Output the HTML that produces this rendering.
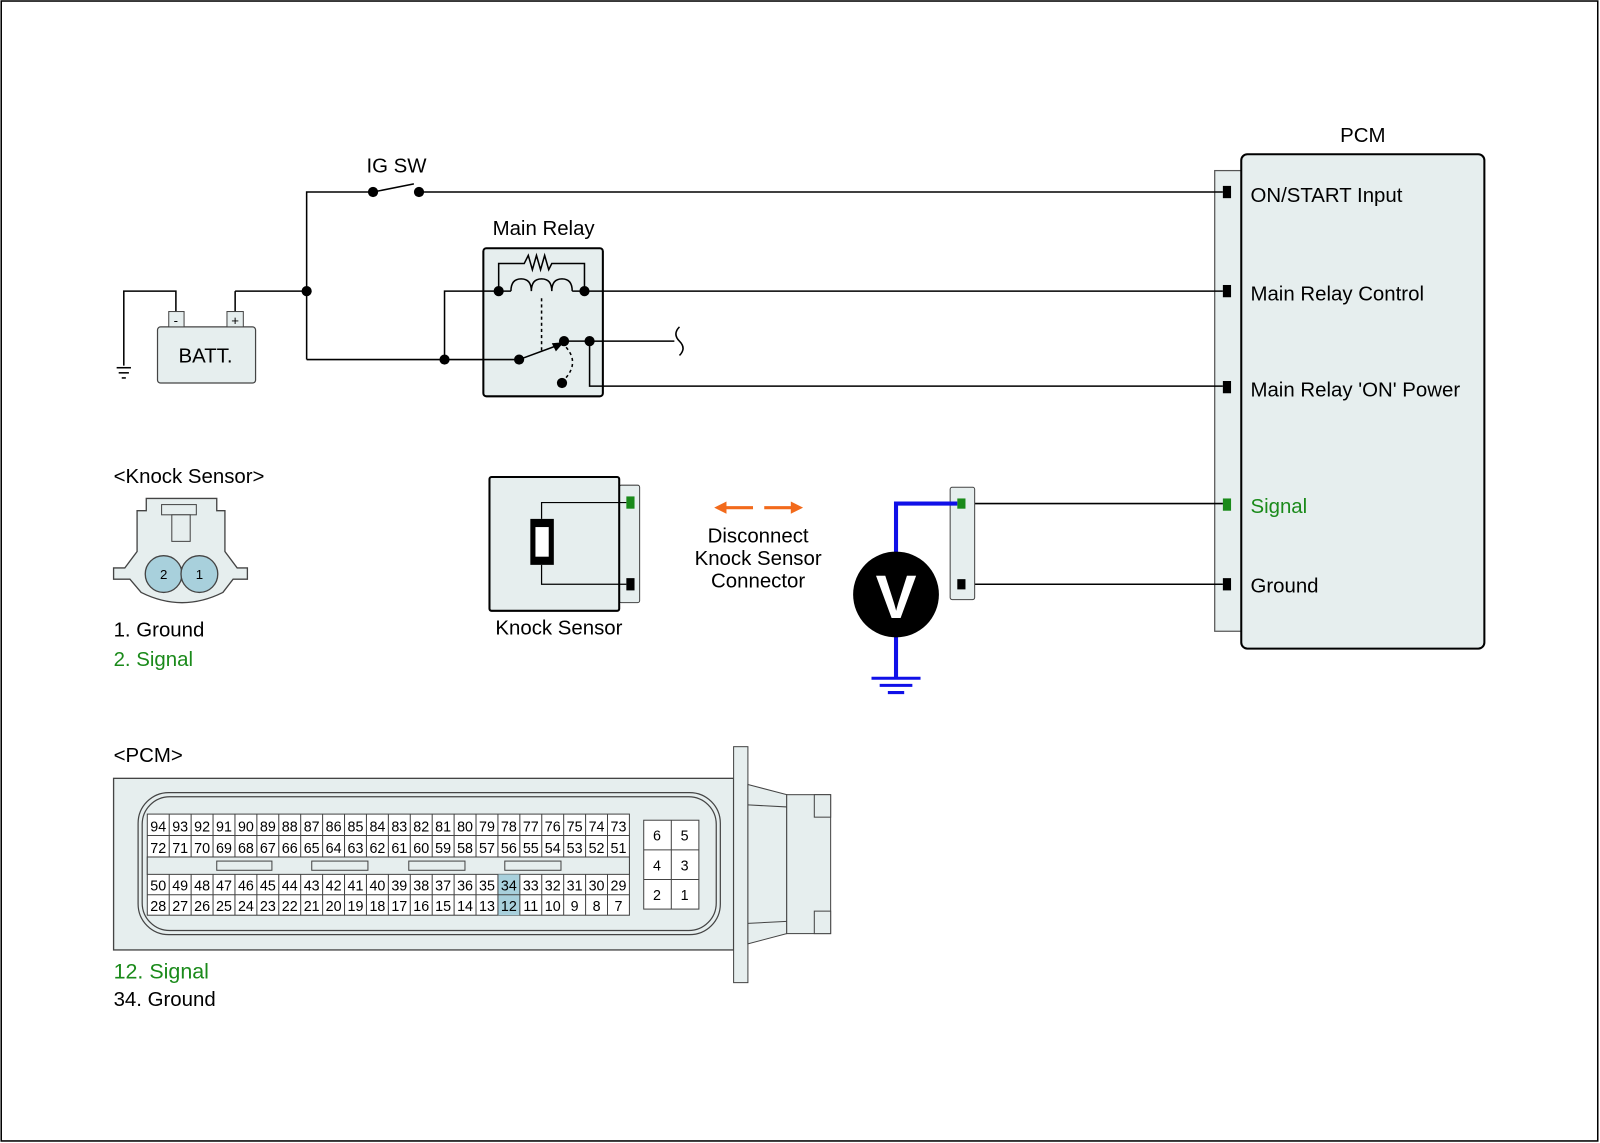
<!DOCTYPE html>
<html><head><style>html,body{margin:0;padding:0;background:#fff}svg{display:block}text{font-family:"Liberation Sans",Arial,sans-serif}</style></head>
<body>
<svg width="1600" height="1143" viewBox="0 0 1566 1119" xmlns="http://www.w3.org/2000/svg">
<rect x="1" y="1" width="1563" height="1116" fill="#fff" stroke="#000" stroke-width="1.5"/>
<g font-size="20" fill="#000">
<!-- PCM -->
<text x="1334" y="139" text-anchor="middle">PCM</text>
<rect x="1189" y="167" width="26" height="451" fill="#e6eeee" stroke="#555" stroke-width="1.2"/>
<rect x="1215" y="151" width="238" height="484" rx="6" fill="#e6eeee" stroke="#000" stroke-width="2"/>
<rect x="1197" y="182" width="8" height="12" fill="#000"/>
<rect x="1197" y="279" width="8" height="12" fill="#000"/>
<rect x="1197" y="373" width="8" height="12" fill="#000"/>
<rect x="1197" y="488" width="8" height="12" fill="#1a8a1a"/>
<rect x="1197" y="566" width="8" height="12" fill="#000"/>
<text x="1224" y="198">ON/START Input</text>
<text x="1224" y="294">Main Relay Control</text>
<text x="1224" y="388">Main Relay 'ON' Power</text>
<text x="1224" y="502" fill="#1a8a1a">Signal</text>
<text x="1224" y="580">Ground</text>

<g stroke="#000" stroke-width="1.5" fill="none">
<polyline points="300,352 300,188 365,188"/>
<line x1="365" y1="188" x2="405" y2="180"/>
<line x1="410" y1="188" x2="1197" y2="188"/>
<line x1="230" y1="285" x2="300" y2="285"/>
<polyline points="300,352 473,352"/>
<polyline points="435,352 435,285 473,285"/>
<line x1="590" y1="285" x2="1197" y2="285"/>
<polyline points="590,334 660,334"/>
<path d="M665,320 Q658,327 665,334 Q672,341 665,348"/>
<polyline points="590,378 1197,378"/>
<line x1="945" y1="493" x2="1197" y2="493"/>
<line x1="945" y1="572" x2="1197" y2="572"/>
<polyline points="230,305 230,285"/>
<polyline points="172,305 172,285 121,285 121,358"/>
<line x1="114" y1="360" x2="128" y2="360"/>
<line x1="116" y1="365" x2="126" y2="365"/>
<line x1="119" y1="370" x2="123" y2="370"/>
</g>
<circle cx="365" cy="188" r="5"/><circle cx="410" cy="188" r="5"/>
<circle cx="300" cy="285" r="5"/><circle cx="435" cy="352" r="5"/>
<text x="388" y="169" text-anchor="middle">IG SW</text>
<!-- battery -->
<rect x="154" y="320" width="96" height="55" rx="3" fill="#e6eeee" stroke="#444" stroke-width="1.2"/>
<rect x="165" y="305" width="15" height="15" fill="#e6eeee" stroke="#444"/>
<rect x="222" y="305" width="16" height="15" fill="#e6eeee" stroke="#444"/>
<text x="172" y="318" font-size="13" text-anchor="middle">-</text>
<text x="230" y="318" font-size="13" text-anchor="middle">+</text>
<text x="201" y="355" text-anchor="middle">BATT.</text>
<!-- relay -->
<text x="532" y="230" text-anchor="middle">Main Relay</text>
<rect x="473" y="243" width="117" height="145" rx="3" fill="#e6eeee" stroke="#000" stroke-width="2"/>
<g stroke="#000" stroke-width="1.5" fill="none">
<line x1="473" y1="285" x2="488" y2="285"/>
<line x1="473" y1="352" x2="508" y2="352"/>
<line x1="572" y1="285" x2="590" y2="285"/>
<line x1="577" y1="334" x2="590" y2="334"/>
<polyline points="577,334 577,378 590,378"/>
<polyline points="488,285 488,258 513,258 517,250 521,264 525,250 529,264 533,250 537,264 540,258 572,258 572,285"/>
<path d="M500,285 q0,-12 10,-12 q10,0 10,12 q0,-12 10,-12 q10,0 10,12 q0,-12 10,-12 q10,0 10,12 M488,285 H500 M560,285 H572"/>
<line x1="530" y1="292" x2="530" y2="346" stroke-dasharray="3,3"/>
<line x1="508" y1="352" x2="546" y2="338"/>
<line x1="552" y1="334" x2="577" y2="334"/>
<path d="M554,340 Q568,356 551,373" stroke-dasharray="3,3"/>
</g>
<polygon points="552,335 540,336 544,344" fill="#000"/>
<circle cx="488" cy="285" r="5"/><circle cx="572" cy="285" r="5"/>
<circle cx="508" cy="352" r="5"/><circle cx="552" cy="334" r="5"/>
<circle cx="577" cy="334" r="5"/><circle cx="550" cy="375" r="5"/>

<!-- knock sensor connector -->
<text x="111" y="473">&lt;Knock Sensor&gt;</text>
<path d="M143,488 H212 V500 H220 V540 L232,556 H242 V567 H228 L218,580 Q178,600 138,580 L127,567 H111 V556 H122 L134,540 V500 H143 Z" fill="#e6eeee" stroke="#444" stroke-width="1.3"/>
<rect x="158" y="494" width="34" height="10" fill="#e6eeee" stroke="#444"/>
<rect x="168" y="504" width="18" height="26" fill="#e6eeee" stroke="#444"/>
<circle cx="160" cy="562" r="18" fill="#a8d0dc" stroke="#444" stroke-width="1.3"/>
<circle cx="195" cy="562" r="18" fill="#a8d0dc" stroke="#444" stroke-width="1.3"/>
<text x="160" y="567" font-size="13" text-anchor="middle">2</text>
<text x="195" y="567" font-size="13" text-anchor="middle">1</text>
<text x="111" y="623">1. Ground</text>
<text x="111" y="652" fill="#1a8a1a">2. Signal</text>

<!-- knock sensor -->
<rect x="606" y="475" width="20" height="115" rx="2" fill="#e6eeee" stroke="#444"/>
<rect x="479" y="467" width="127" height="131" rx="2" fill="#e6eeee" stroke="#000" stroke-width="2"/>
<polyline points="613,492 530,492 530,508" stroke="#000" fill="none" stroke-width="1.2"/>
<polyline points="530,553 530,572 613,572" stroke="#000" fill="none" stroke-width="1.2"/>
<rect x="519" y="508" width="23" height="45" fill="#000"/>
<rect x="524" y="516" width="13" height="29" fill="#fff"/>
<rect x="613" y="486" width="8" height="12" fill="#1a8a1a"/>
<rect x="613" y="566" width="8" height="12" fill="#000"/>
<text x="547" y="621" text-anchor="middle">Knock Sensor</text>
<g stroke="#f26a1b" stroke-width="3"><line x1="708" y1="497" x2="737" y2="497"/><line x1="748" y1="497" x2="777" y2="497"/></g>
<polygon points="699,497 711,491 711,503" fill="#f26a1b"/>
<polygon points="786,497 774,491 774,503" fill="#f26a1b"/>
<text x="742" y="531" text-anchor="middle">Disconnect</text>
<text x="742" y="553" text-anchor="middle">Knock Sensor</text>
<text x="742" y="575" text-anchor="middle">Connector</text>

<!-- meter -->
<rect x="930" y="477" width="24" height="110" rx="2" fill="#e6eeee" stroke="#444"/>
<rect x="937" y="488" width="8" height="10" fill="#1a8a1a"/>
<rect x="937" y="567" width="8" height="10" fill="#000"/>
<g stroke="#1010e8" stroke-width="4" fill="none">
<polyline points="937,493 877,493 877,545"/>
<line x1="877" y1="620" x2="877" y2="664"/>
<line x1="853" y1="664" x2="901" y2="664" stroke-width="3"/>
<line x1="861" y1="671" x2="893" y2="671" stroke-width="3"/>
<line x1="869" y1="678" x2="885" y2="678" stroke-width="3"/>
</g>
<circle cx="877" cy="582" r="42" fill="#000"/>
<text x="877" y="605" text-anchor="middle" font-size="60" font-weight="bold" fill="#fff">V</text>

<!-- PCM connector -->
<text x="111" y="746">&lt;PCM&gt;</text>
<rect x="111" y="762" width="607" height="168" fill="#e6eeee" stroke="#444" stroke-width="1.3"/>
<rect x="135" y="776" width="570" height="139" rx="30" fill="none" stroke="#444" stroke-width="1.2"/>
<rect x="139" y="780" width="562" height="131" rx="27" fill="none" stroke="#444" stroke-width="1.2"/>
<rect x="718" y="731" width="14" height="231" fill="#e6eeee" stroke="#444"/>
<path d="M732,768 L770,778 V914 L732,924 Z" fill="#e6eeee" stroke="#444"/>
<rect x="770" y="778" width="43" height="136" fill="#e6eeee" stroke="#444"/>
<rect x="797" y="778" width="16" height="22" fill="#e6eeee" stroke="#444"/>
<rect x="797" y="892" width="16" height="22" fill="#e6eeee" stroke="#444"/>
<line x1="732" y1="788" x2="770" y2="790" stroke="#444"/>
<line x1="732" y1="904" x2="770" y2="902" stroke="#444"/>
<rect x="144" y="797" width="472" height="99" fill="#fff" stroke="#444"/>
<rect x="144" y="839" width="472" height="17" fill="#e6eeee" stroke="#444"/>
<rect x="487" y="856" width="21.5" height="40" fill="#a8d0dc"/>
<g fill="#e6eeee" stroke="#444"><rect x="212" y="843" width="54" height="9"/><rect x="305" y="843" width="55" height="9"/><rect x="400" y="843" width="55" height="9"/><rect x="494" y="843" width="55" height="9"/></g>
<g stroke="#444" stroke-width="1">
<line x1="144" y1="818" x2="616" y2="818"/><line x1="144" y1="876" x2="616" y2="876"/>
</g>
<g id="cols" stroke="#444" stroke-width="1"></g>
<g font-size="14" text-anchor="middle" id="nums"></g>
<rect x="630" y="803" width="54" height="87" fill="#fff" stroke="#444"/>
<g stroke="#444"><line x1="657" y1="803" x2="657" y2="890"/><line x1="630" y1="832" x2="684" y2="832"/><line x1="630" y1="861" x2="684" y2="861"/></g>
<g font-size="14" text-anchor="middle"><text x="643" y="823">6</text><text x="670" y="823">5</text><text x="643" y="852">4</text><text x="670" y="852">3</text><text x="643" y="881">2</text><text x="670" y="881">1</text></g>
<text x="111" y="958" fill="#1a8a1a" font-size="21">12. Signal</text>
<text x="111" y="985">34. Ground</text>
</g>
<script>
(function(){var ns="http://www.w3.org/2000/svg",c=document.getElementById("cols"),n=document.getElementById("nums");
var w=472/22;
for(var i=1;i<22;i++){var x=144+i*w;[[797,839],[856,896]].forEach(function(r){var l=document.createElementNS(ns,"line");l.setAttribute("x1",x);l.setAttribute("x2",x);l.setAttribute("y1",r[0]);l.setAttribute("y2",r[1]);c.appendChild(l);});}
var rows=[[94,814],[72,835],[50,872],[28,892]];
rows.forEach(function(r){for(var i=0;i<22;i++){var t=document.createElementNS(ns,"text");t.setAttribute("x",144+i*w+w/2);t.setAttribute("y",r[1]);t.textContent=r[0]-i;n.appendChild(t);}});
})();
</script>
</svg>
</body></html>
